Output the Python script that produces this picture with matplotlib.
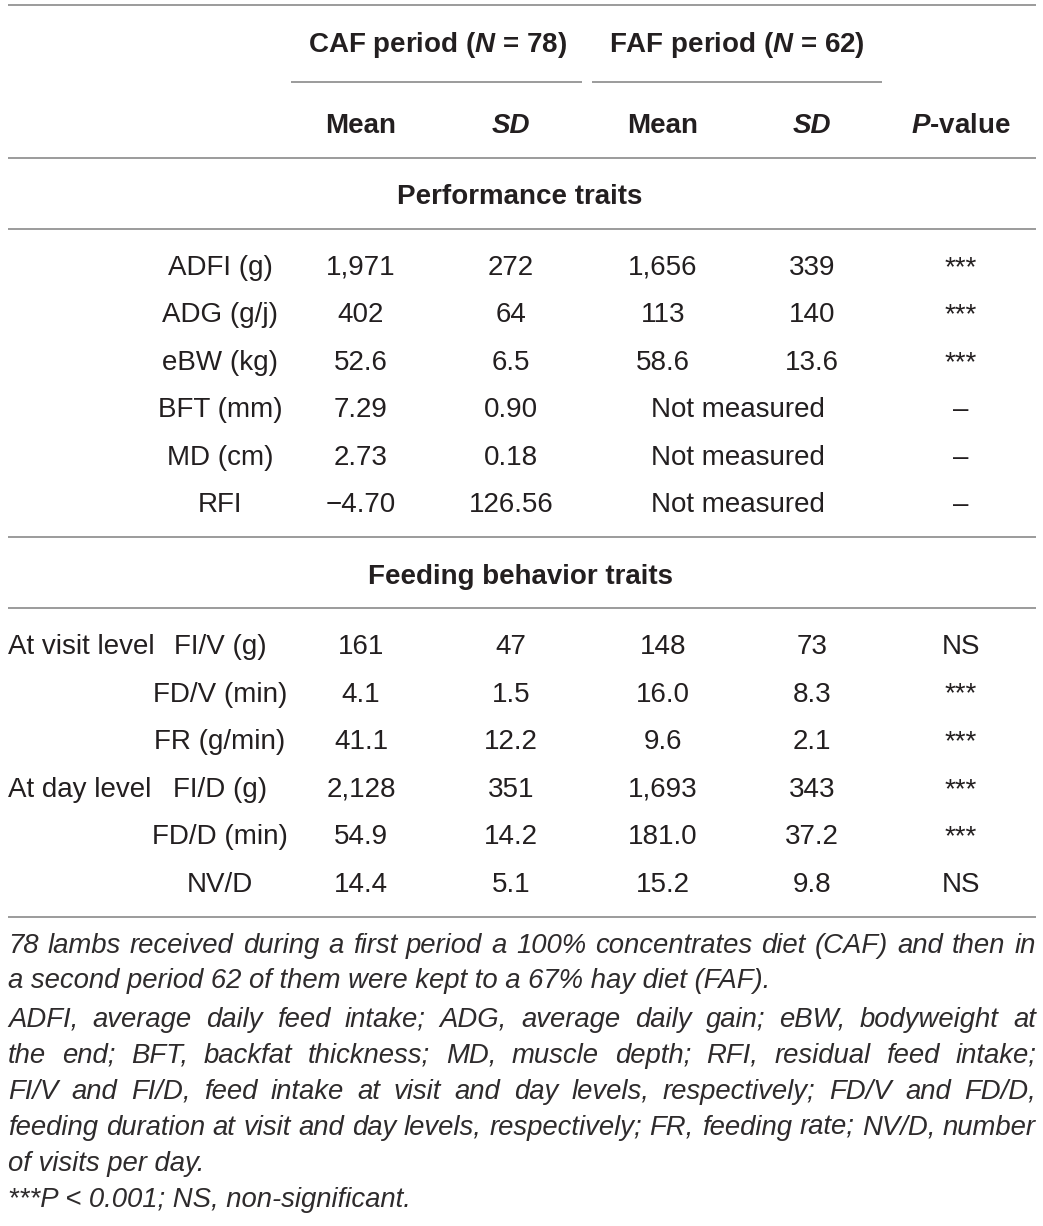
import matplotlib
matplotlib.use("Agg")
import matplotlib.pyplot as plt

plt.rcParams['font.family'] = ['Liberation Sans', 'DejaVu Sans']
plt.rcParams['mathtext.fontset'] = 'custom'
plt.rcParams['mathtext.bfit'] = 'Liberation Sans:italic:bold'
plt.rcParams['mathtext.it'] = 'Liberation Sans:italic'
plt.rcParams['mathtext.rm'] = 'Liberation Sans'

# table content
perf_traits = ["ADFI (g)", "ADG (g/j)", "eBW (kg)", "BFT (mm)", "MD (cm)", "RFI"]
perf_caf_mean = ["1,971", "402", "52.6", "7.29", "2.73", "\u22124.70"]
perf_caf_sd = ["272", "64", "6.5", "0.90", "0.18", "126.56"]
perf_faf_mean = ["1,656", "113", "58.6", None, None, None]
perf_faf_sd = ["339", "140", "13.6", None, None, None]
perf_p = ["***", "***", "***", "\u2013", "\u2013", "\u2013"]

feed_groups = ["At visit level", "", "", "At day level", "", ""]
feed_traits = ["FI/V (g)", "FD/V (min)", "FR (g/min)", "FI/D (g)", "FD/D (min)", "NV/D"]
feed_caf_mean = ["161", "4.1", "41.1", "2,128", "54.9", "14.4"]
feed_caf_sd = ["47", "1.5", "12.2", "351", "14.2", "5.1"]
feed_faf_mean = ["148", "16.0", "9.6", "1,693", "181.0", "15.2"]
feed_faf_sd = ["73", "8.3", "2.1", "343", "37.2", "9.8"]
feed_p = ["NS", "***", "***", "***", "***", "NS"]

notes = [
    ("78 lambs received during a first period a 100% concentrates diet (CAF) and then in", True),
    ("a second period 62 of them were kept to a 67% hay diet (FAF).", False),
    ("ADFI, average daily feed intake; ADG, average daily gain; eBW, bodyweight at", True),
    ("the end; BFT, backfat thickness; MD, muscle depth; RFI, residual feed intake;", True),
    ("FI/V and FI/D, feed intake at visit and day levels, respectively; FD/V and FD/D,", True),
    ("feeding duration at visit and day levels, respectively; FR, feeding rate; NV/D, number", True),
    ("of visits per day.", False),
    ("***P < 0.001; NS, non-significant.", False),
]

W, H = 1043, 1226
fig = plt.figure(figsize=(W / 100, H / 100), dpi=100)
ax = fig.add_axes([0, 0, 1, 1])
ax.set_xlim(0, W)
ax.set_ylim(H, 0)
ax.axis('off')

ink = '#231f20'
note_ink = '#2e2b2c'
rule = '#808080'
fs = 20
x_lab = 220
cols = [361, 511, 663, 812, 961]

def hline(y, x0=8, x1=1036):
    ax.plot([x0, x1], [y, y], color=rule, lw=1.1, solid_capstyle='butt')

# rules
hline(5)
hline(82, 291, 582)
hline(82, 592, 882)
hline(158)
hline(229)
hline(537)
hline(608)
hline(917)

# header
ax.text(437, 52, r"CAF period ($\mathbfit{N}$ = 78)", ha='center', va='baseline',
        fontsize=fs, fontweight='bold', color=ink)
ax.text(737, 52, r"FAF period ($\mathbfit{N}$ = 62)", ha='center', va='baseline',
        fontsize=fs, fontweight='bold', color=ink)
for x, lab in zip(cols, ["Mean", "SD", "Mean", "SD"]):
    ax.text(x, 133, lab, ha='center', va='baseline', fontsize=fs, fontweight='bold',
            fontstyle='italic' if lab == "SD" else 'normal', color=ink)
ax.text(cols[4], 133, r"$\mathbfit{P}$-value", ha='center', va='baseline',
        fontsize=fs, fontweight='bold', color=ink)

ax.text(520, 204, "Performance traits", ha='center', va='baseline',
        fontsize=fs, fontweight='bold', color=ink)
ax.text(520, 584, "Feeding behavior traits", ha='center', va='baseline',
        fontsize=fs, fontweight='bold', color=ink)

def cell(x, y, s):
    ax.text(x, y, s, ha='center', va='baseline', fontsize=fs, color=ink)

for i, tr in enumerate(perf_traits):
    y = 275 + i * 47.4
    cell(x_lab, y, tr)
    cell(cols[0], y, perf_caf_mean[i])
    cell(cols[1], y, perf_caf_sd[i])
    if perf_faf_mean[i] is None:
        cell((cols[2] + cols[3]) / 2, y, "Not measured")
    else:
        cell(cols[2], y, perf_faf_mean[i])
        cell(cols[3], y, perf_faf_sd[i])
    cell(cols[4], y, perf_p[i])

for i, tr in enumerate(feed_traits):
    y = 654 + i * 47.6
    if feed_groups[i]:
        ax.text(8, y, feed_groups[i], ha='left', va='baseline', fontsize=fs, color=ink)
    cell(x_lab, y, tr)
    cell(cols[0], y, feed_caf_mean[i])
    cell(cols[1], y, feed_caf_sd[i])
    cell(cols[2], y, feed_faf_mean[i])
    cell(cols[3], y, feed_faf_sd[i])
    cell(cols[4], y, feed_p[i])

# footnotes, justified like the journal layout
renderer = fig.canvas.get_renderer()
note_y = [953, 988, 1027, 1063, 1099, 1135, 1171, 1207]
nfs = 19.8
x0, x1 = 8, 1036
for (line, just), y in zip(notes, note_y):
    if not just:
        ax.text(x0, y, line, ha='left', va='baseline', fontsize=nfs,
                fontstyle='italic', color=note_ink)
        continue
    words = line.split(' ')
    texts = [ax.text(0, y, w, ha='left', va='baseline', fontsize=nfs,
                     fontstyle='italic', color=note_ink) for w in words]
    widths = [t.get_window_extent(renderer).width for t in texts]
    gap = (x1 - x0 - sum(widths)) / (len(words) - 1)
    x = x0
    for t, w in zip(texts, widths):
        t.set_x(x)
        x += w + gap

fig.savefig("out.png", dpi=100)
